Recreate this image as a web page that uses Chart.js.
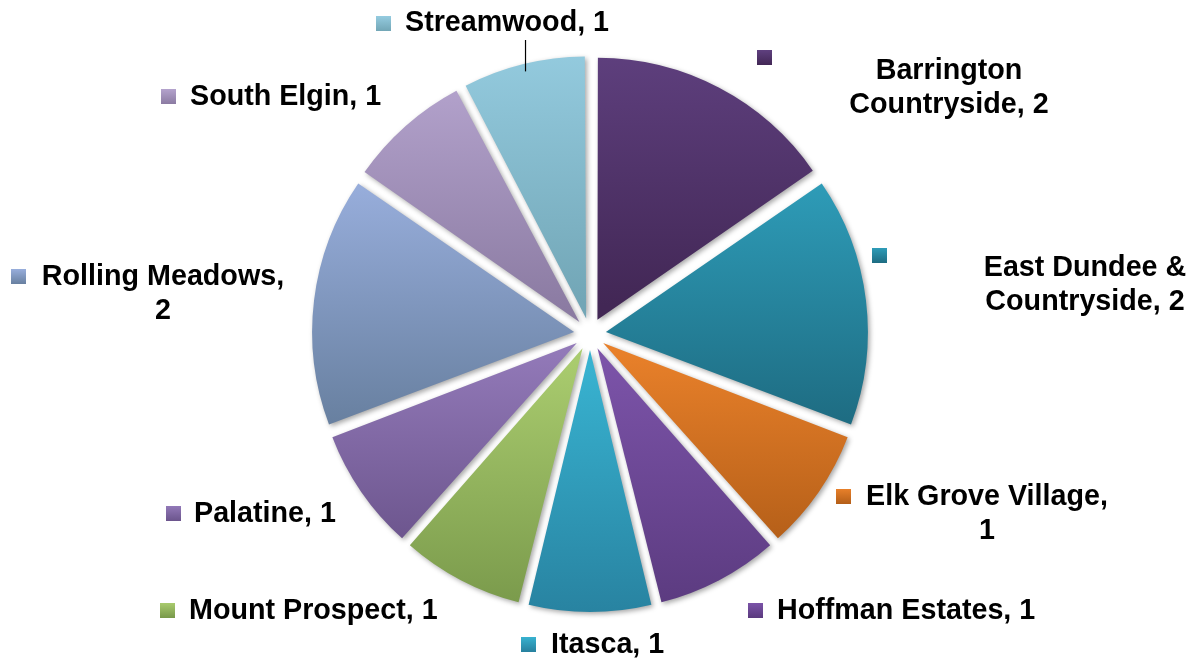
<!DOCTYPE html>
<html>
<head>
<meta charset="utf-8">
<script src="https://cdn.jsdelivr.net/npm/chart.js@4.4.1/dist/chart.umd.min.js"></script>
<style>
    html, body { margin: 0; padding: 0; background: #ffffff; }
    #wrap { width: 1197px; height: 663px; position: relative; }
</style>
</head>
<body>
<div id="wrap"><canvas id="pieChart"></canvas></div>
<script>
const categories = ['Barrington Countryside', 'East Dundee & Countryside', 'Elk Grove Village', 'Hoffman Estates', 'Itasca', 'Mount Prospect', 'Palatine', 'Rolling Meadows', 'South Elgin', 'Streamwood'];
const counts = [2, 2, 1, 1, 1, 1, 1, 2, 1, 1];

const topColors = ['#5f407f', '#2e9cb8', '#e8802a', '#7b53a8', '#38b2d0', '#a9cb6e', '#9279b8', '#98aedc', '#b4a3cd', '#95cce0'];
const bottomColors = ['#422755', '#1e6c82', '#b35e18', '#5a3a7e', '#27809e', '#78984a', '#6b548c', '#6880a0', '#8b7ba2', '#72a6b6'];

// where each data label sits (marker corner, text anchor, line break)
const labelLayout = [
    { mx: 757, my: 50, tx: 949, ty: 71, align: 'center', wrap: 'Barrington' },
    { mx: 872, my: 248, tx: 1085, ty: 268, align: 'center', wrap: 'East Dundee &' },
    { mx: 836, my: 489, tx: 987, ty: 497, align: 'center', wrap: 'Elk Grove Village,' },
    { mx: 748, my: 603, tx: 777, ty: 611, align: 'left' },
    { mx: 521, my: 637, tx: 551, ty: 645, align: 'left' },
    { mx: 160, my: 603, tx: 189, ty: 611, align: 'left' },
    { mx: 166, my: 506, tx: 194, ty: 514, align: 'left' },
    { mx: 11, my: 269, tx: 163, ty: 277, align: 'center', wrap: 'Rolling Meadows,' },
    { mx: 161, my: 89, tx: 190, ty: 97, align: 'left' },
    { mx: 376, my: 16, tx: 405, ty: 23, align: 'left', leaderTop: 40 }
];

const R = 262;
const OFFSET = 64;   // chart.js shifts each arc by offset / 4
const LINE_H = 34;
const MARK = 15;
const FONT = 'bold 28.7px "Liberation Sans", Arial, sans-serif';

function sliceGradient(context) {
    const chart = context.chart;
    const area = chart.chartArea;
    const i = context.dataIndex;
    if (!area || i === undefined) return topColors[i || 0];
    const total = counts.reduce((a, b) => a + b, 0);
    let before = 0;
    for (let k = 0; k < i; k++) before += counts[k];
    const a0 = -Math.PI / 2 + before / total * 2 * Math.PI;
    const a1 = a0 + counts[i] / total * 2 * Math.PI;
    const mid = (a0 + a1) / 2;
    const cy = (area.top + area.bottom) / 2 + Math.sin(mid) * OFFSET / 4;
    let minY = cy, maxY = cy;
    for (let t = 0; t <= 24; t++) {
        const y = cy + Math.sin(a0 + (a1 - a0) * t / 24) * R;
        minY = Math.min(minY, y);
        maxY = Math.max(maxY, y);
    }
    const g = chart.ctx.createLinearGradient(0, minY, 0, maxY);
    g.addColorStop(0, topColors[i]);
    g.addColorStop(1, bottomColors[i]);
    return g;
}

// keep every exploded slice at the same radius
const radiusFix = {
    id: 'radiusFix',
    afterDatasetsUpdate(chart) {
        chart.getDatasetMeta(0).data.forEach(arc => {
            const fix = 1 - Math.sin(Math.min(Math.PI, arc.circumference));
            arc.outerRadius = R - OFFSET / 4 * fix;
        });
    }
};

const sliceShadow = {
    id: 'sliceShadow',
    beforeDatasetsDraw(chart) {
        const ctx = chart.ctx;
        ctx.save();
        ctx.shadowColor = 'rgba(0, 0, 0, 0.35)';
        ctx.shadowBlur = 5;
        ctx.shadowOffsetX = 2;
        ctx.shadowOffsetY = 2;
    },
    afterDatasetsDraw(chart) {
        chart.ctx.restore();
    }
};

const sliceLabels = {
    id: 'sliceLabels',
    afterDraw(chart) {
        const ctx = chart.ctx;
        const arcs = chart.getDatasetMeta(0).data;
        ctx.save();
        ctx.font = FONT;
        ctx.textBaseline = 'middle';
        categories.forEach((cat, i) => {
            const lay = labelLayout[i];
            const g = ctx.createLinearGradient(0, lay.my, 0, lay.my + MARK);
            g.addColorStop(0, topColors[i]);
            g.addColorStop(1, bottomColors[i]);
            ctx.fillStyle = g;
            ctx.fillRect(lay.mx, lay.my, MARK, MARK);

            ctx.fillStyle = '#000000';
            ctx.textAlign = lay.align;
            const text = cat + ', ' + counts[i];
            let lines = [text];
            if (lay.wrap) lines = [lay.wrap, text.slice(lay.wrap.length).trim()];
            lines.forEach((ln, j) => ctx.fillText(ln, lay.tx, lay.ty + j * LINE_H));

            if (lay.leaderTop) {
                const arc = arcs[i];
                const mid = (arc.startAngle + arc.endAngle) / 2;
                const px = arc.x + Math.cos(mid) * (arc.outerRadius + OFFSET / 4);
                const py = arc.y + Math.sin(mid) * (arc.outerRadius + OFFSET / 4);
                ctx.strokeStyle = '#000000';
                ctx.lineWidth = 1.2;
                ctx.beginPath();
                ctx.moveTo(px, lay.leaderTop);
                ctx.lineTo(px, py - 1);
                ctx.stroke();
            }
        });
        ctx.restore();
    }
};

new Chart(document.getElementById('pieChart'), {
    type: 'pie',
    data: {
        labels: categories,
        datasets: [{
            data: counts,
            backgroundColor: sliceGradient,
            borderWidth: 0,
            offset: OFFSET,
            hoverOffset: OFFSET
        }]
    },
    options: {
        responsive: true,
        maintainAspectRatio: false,
        animation: false,
        radius: R,
        layout: {
            padding: { left: 0, right: 17, top: 5, bottom: 0 }
        },
        plugins: {
            legend: { display: false },
            tooltip: { enabled: false }
        }
    },
    plugins: [radiusFix, sliceShadow, sliceLabels]
});
</script>
</body>
</html>
